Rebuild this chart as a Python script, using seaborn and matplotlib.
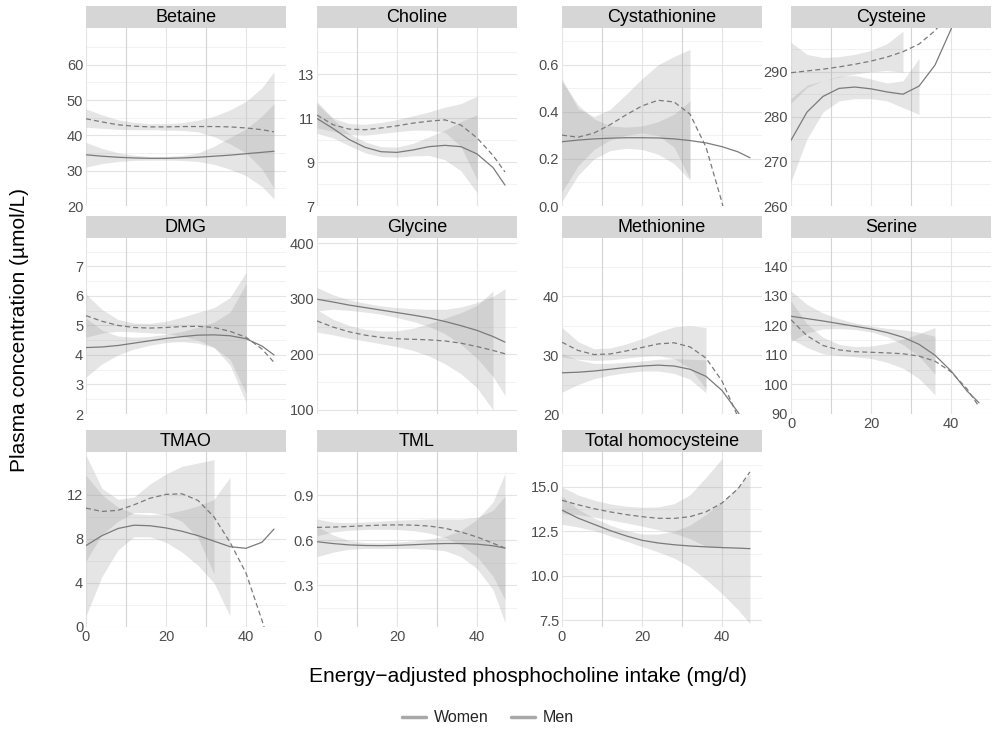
"""Plasma metabolite concentrations vs energy-adjusted phosphocholine intake, by sex."""

import matplotlib

matplotlib.use("Agg")
import matplotlib.pyplot as plt
import numpy as np
import pandas as pd
import seaborn as sns
from matplotlib.lines import Line2D

N = np.nan

# intake grid (mg/d) the curves are read at
X = [0, 4, 8, 12, 16, 20, 24, 28, 32, 36, 40, 44, 47]

PANELS = [
    "Betaine", "Choline", "Cystathionine", "Cysteine",
    "DMG", "Glycine", "Methionine", "Serine",
    "TMAO", "TML", "Total homocysteine",
]

BETAINE = {
    "women": [34.5, 34.1, 33.8, 33.6, 33.5, 33.5, 33.6, 33.8, 34.1, 34.4, 34.8, 35.2, 35.5],
    "women_lo": [31.0, 32.0, 32.6, 32.9, 33.0, 33.0, 32.9, 32.6, 31.8, 30.4, 28.6, 25.5, 22.0],
    "women_hi": [38.0, 36.3, 35.1, 34.4, 34.0, 34.0, 34.3, 35.0, 36.9, 39.4, 41.8, 45.5, 49.0],
    "men": [44.7, 43.8, 43.0, 42.6, 42.4, 42.4, 42.5, 42.5, 42.5, 42.4, 42.1, 41.6, 41.0],
    "men_lo": [42.3, 42.0, 41.7, 41.6, 41.6, 41.5, 41.4, 41.0, 39.6, 37.6, 35.0, 30.5, 25.0],
    "men_hi": [47.5, 45.8, 44.4, 43.7, 43.3, 43.3, 43.6, 44.3, 45.4, 47.2, 49.6, 53.5, 58.0],
}
CHOLINE = {
    "women": [10.98, 10.53, 10.03, 9.67, 9.47, 9.44, 9.55, 9.70, 9.76, 9.70, 9.37, 8.75, 7.95],
    "women_lo": [10.3, 10.1, 9.75, 9.42, 9.25, 9.22, 9.28, 9.3, 9.1, 8.6, 7.6, N, N],
    "women_hi": [11.65, 10.95, 10.3, 9.92, 9.7, 9.68, 9.85, 10.15, 10.45, 10.85, 11.15, N, N],
    "men": [11.14, 10.7, 10.5, 10.47, 10.55, 10.65, 10.77, 10.86, 10.92, 10.68, 10.1, 9.3, 8.55],
    "men_lo": [10.55, 10.4, 10.25, 10.22, 10.3, 10.38, 10.45, 10.45, 10.35, 9.7, 8.2, N, N],
    "men_hi": [11.75, 11.0, 10.75, 10.72, 10.8, 10.93, 11.1, 11.28, 11.5, 11.66, 12.0, N, N],
}
CYSTATHIONINE = {
    "women": [0.273, 0.28, 0.285, 0.288, 0.29, 0.29, 0.289, 0.285, 0.278, 0.268, 0.252, 0.23, 0.205],
    "women_lo": [0.02, 0.13, 0.2, 0.235, 0.245, 0.24, 0.22, 0.18, 0.11, N, N, N, N],
    "women_hi": [0.53, 0.43, 0.37, 0.341, 0.335, 0.34, 0.358, 0.39, 0.446, N, N, N, N],
    "men": [0.301, 0.292, 0.31, 0.345, 0.387, 0.425, 0.449, 0.442, 0.39, 0.25, 0.015, -0.3, -0.6],
    "men_lo": [0.06, 0.17, 0.24, 0.28, 0.30, 0.31, 0.30, 0.25, 0.115, N, N, N, N],
    "men_hi": [0.54, 0.414, 0.38, 0.41, 0.474, 0.54, 0.60, 0.635, 0.665, N, N, N, N],
}
CYSTEINE = {
    "women": [274.7, 281.0, 284.5, 286.3, 286.6, 286.2, 285.5, 285.0, 286.8, 291.5, 299.5, 310, 318],
    "women_lo": [265.5, 275, 281, 283.5, 284, 284, 283.5, 282, 280.5, N, N, N, N],
    "women_hi": [284, 287, 288, 289, 289.2, 288.4, 287.5, 288, 293, N, N, N, N],
    "men": [289.8, 290.2, 290.6, 291.1, 291.7, 292.4, 293.3, 294.5, 296.2, 299.2, 303.5, 309, 314],
    "men_lo": [283, 286.5, 288, 288.8, 289.5, 290, 290.3, 289.9, N, N, N, N, N],
    "men_hi": [296.6, 293.9, 293.2, 293.4, 293.9, 294.8, 296.3, 299.1, N, N, N, N, N],
}
DMG = {
    "women": [4.25, 4.27, 4.32, 4.4, 4.48, 4.56, 4.62, 4.67, 4.68, 4.65, 4.55, 4.3, 4.0],
    "women_lo": [3.25, 3.7, 4.0, 4.2, 4.33, 4.42, 4.45, 4.4, 4.25, 3.85, 2.7, N, N],
    "women_hi": [5.25, 4.84, 4.64, 4.6, 4.63, 4.7, 4.79, 4.94, 5.11, 5.45, 6.4, N, N],
    "men": [5.33, 5.14, 5.0, 4.93, 4.91, 4.93, 4.96, 4.97, 4.93, 4.8, 4.6, 4.2, 3.75],
    "men_lo": [4.6, 4.74, 4.8, 4.78, 4.75, 4.72, 4.64, 4.5, 4.26, 3.66, 2.4, N, N],
    "men_hi": [6.06, 5.54, 5.2, 5.08, 5.07, 5.14, 5.28, 5.44, 5.6, 5.94, 6.8, N, N],
}
GLYCINE = {
    "women": [299, 294, 288.5, 284, 279.5, 275, 270.5, 265.5, 259, 251.5, 243, 232, 222],
    "women_lo": [278, 281, 279, 276, 272, 266, 259, 250, 237, 218, 193, 160, 126],
    "women_hi": [320, 307, 298, 292, 287, 284, 282, 281, 281, 285, 293, 304, 318],
    "men": [260, 249, 240.5, 234.5, 230.5, 228, 227, 226, 224, 220, 214, 207, 201],
    "men_lo": [240, 235, 229, 224, 219, 214, 207, 197, 183, 165, 140, 100, N],
    "men_hi": [280, 263, 252, 245, 242, 242, 247, 255, 265, 275, 288, 314, N],
}
METHIONINE = {
    "women": [27.0, 27.1, 27.3, 27.6, 27.9, 28.15, 28.3, 28.15, 27.6, 26.4, 24.0, 20.3, 17.0],
    "women_lo": [23.7, 25.0, 26.0, 26.6, 27.0, 27.3, 27.3, 26.9, 25.9, 23.6, N, N, N],
    "women_hi": [30.3, 29.2, 28.6, 28.6, 28.8, 29.0, 29.3, 29.4, 29.3, 29.2, N, N, N],
    "men": [32.2, 30.8, 30.1, 30.2, 30.7, 31.3, 31.9, 32.1, 31.4, 29.5, 25.6, 19.5, 15.0],
    "men_lo": [29.7, 29.3, 29.1, 29.2, 29.5, 29.8, 29.9, 29.4, 27.8, 24.3, N, N, N],
    "men_hi": [34.7, 32.3, 31.1, 31.2, 31.9, 32.8, 33.9, 34.8, 35.0, 34.7, N, N, N],
}
SERINE = {
    "women": [123.1, 122.3, 121.5, 120.6, 119.7, 118.8, 117.6, 116.0, 113.6, 109.9, 104.6, 97.8, 93.8],
    "women_lo": [114.5, 117.5, 118.8, 118.9, 118.6, 117.8, 116.2, 113.5, 109.5, 103.5, N, N, N],
    "women_hi": [131.7, 127.1, 124.2, 122.3, 120.8, 119.8, 119.0, 118.5, 117.7, 116.3, N, N, N],
    "men": [121.9, 116.5, 113.2, 111.7, 111.1, 110.9, 110.7, 110.4, 109.6, 107.9, 104.3, 98.5, 92.5],
    "men_lo": [115.5, 112.5, 110.4, 109.8, 109.4, 108.8, 107.5, 105.5, 102.0, 96.5, N, N, N],
    "men_hi": [128.3, 120.5, 116.0, 113.6, 112.8, 113.0, 113.9, 115.3, 117.2, 119.3, N, N, N],
}
TMAO = {
    "women": [7.4, 8.3, 8.95, 9.25, 9.2, 9.0, 8.7, 8.3, 7.8, 7.3, 7.15, 7.7, 8.9],
    "women_lo": [1.0, 4.6, 7.0, 8.2, 8.2, 7.7, 6.8, 5.6, 4.0, 1.0, N, N, N],
    "women_hi": [13.8, 12.0, 10.9, 10.3, 10.2, 10.3, 10.6, 11.0, 11.6, 13.6, N, N, N],
    "men": [10.8, 10.5, 10.6, 11.1, 11.7, 12.05, 12.1, 11.5, 10.0, 7.7, 4.9, 0.6, -3.0],
    "men_lo": [6.0, 8.4, 9.6, 10.4, 10.4, 10.2, 9.6, 8.1, 4.8, N, N, N, N],
    "men_hi": [15.6, 12.6, 11.6, 11.8, 13.0, 13.9, 14.6, 14.9, 15.2, N, N, N, N],
}
TML = {
    "women": [0.59, 0.578, 0.569, 0.565, 0.564, 0.566, 0.57, 0.575, 0.578, 0.578, 0.574, 0.563, 0.548],
    "women_lo": [0.49, 0.52, 0.54, 0.545, 0.545, 0.545, 0.545, 0.54, 0.53, 0.49, 0.41, 0.27, 0.05],
    "women_hi": [0.69, 0.636, 0.598, 0.585, 0.583, 0.587, 0.595, 0.61, 0.626, 0.666, 0.738, 0.856, 1.046],
    "men": [0.686, 0.688, 0.692, 0.697, 0.701, 0.703, 0.701, 0.695, 0.68, 0.655, 0.622, 0.58, 0.548],
    "men_lo": [0.63, 0.655, 0.667, 0.672, 0.674, 0.672, 0.664, 0.648, 0.618, 0.568, 0.49, 0.36, 0.2],
    "men_hi": [0.742, 0.721, 0.717, 0.722, 0.728, 0.734, 0.738, 0.742, 0.742, 0.742, 0.754, 0.8, 0.896],
}
HOMOCYSTEINE = {
    "women": [13.7, 13.25, 12.9, 12.55, 12.25, 12.0, 11.85, 11.75, 11.68, 11.63, 11.59, 11.56, 11.53],
    "women_lo": [12.9, 12.75, 12.55, 12.25, 11.95, 11.65, 11.35, 11.0, 10.5, 9.8, 9.0, 8.1, 7.3],
    "women_hi": [14.5, 13.75, 13.25, 12.85, 12.55, 12.35, 12.35, 12.5, 12.86, 13.46, 14.18, 15.02, 15.76],
    "men": [14.25, 14.0, 13.78, 13.6, 13.45, 13.33, 13.24, 13.23, 13.33, 13.6, 14.1, 14.9, 15.85],
    "men_lo": [13.5, 13.45, 13.3, 13.15, 12.98, 12.8, 12.6, 12.4, 12.1, 11.65, 11.6, N, N],
    "men_hi": [15.0, 14.55, 14.26, 14.05, 13.92, 13.86, 13.88, 14.06, 14.56, 15.55, 16.6, N, N],
}
SERIES = [BETAINE, CHOLINE, CYSTATHIONINE, CYSTEINE, DMG, GLYCINE,
          METHIONINE, SERINE, TMAO, TML, HOMOCYSTEINE]

Y_LIMITS = [(20, 70.4), (7, 15.1), (0, 0.756), (260, 299.8), (2, 7.96), (92.8, 409),
            (20, 49.9), (90, 149.6), (0, 15.9), (0.02, 1.19), (7.12, 16.97)]
Y_TICKS = [
    [20, 30, 40, 50, 60], [7, 9, 11, 13], [0.0, 0.2, 0.4, 0.6], [260, 270, 280, 290],
    [2, 3, 4, 5, 6, 7], [100, 200, 300, 400], [20, 30, 40], [90, 100, 110, 120, 130, 140],
    [0, 4, 8, 12], [0.3, 0.6, 0.9], [7.5, 10.0, 12.5, 15.0],
]
Y_TICK_LABELS = [
    ["20", "30", "40", "50", "60"], ["7", "9", "11", "13"], ["0.0", "0.2", "0.4", "0.6"],
    ["260", "270", "280", "290"], ["2", "3", "4", "5", "6", "7"], ["100", "200", "300", "400"],
    ["20", "30", "40"], ["90", "100", "110", "120", "130", "140"], ["0", "4", "8", "12"],
    ["0.3", "0.6", "0.9"], ["7.5", "10.0", "12.5", "15.0"],
]
X_TICKS = [0, 20, 40]
X_MINOR = [10, 30]
SEXES = ["Women", "Men"]

W, H = 992, 729
COL_LEFT = [86, 317, 562, 791]
PANEL_W = 200
ROW_TOP = [28, 238, 452]
PANEL_H = [178, 176, 175]
STRIP_H = 22
TEXT = "#4d4d4d"


def frac(left, top, width, height):
    return [left / W, 1 - (top + height) / H, width / W, height / H]


def long_frame(series):
    rows = []
    for sex, key in zip(SEXES, ["women", "men"]):
        for x, v, lo, hi in zip(X, series[key], series[key + "_lo"], series[key + "_hi"]):
            rows.append({"intake": x, "sex": sex, "value": v, "lo": lo, "hi": hi})
    return pd.DataFrame(rows)


def draw_panel(fig, i, name, series):
    row, col = divmod(i, 4)
    ax = fig.add_axes(frac(COL_LEFT[col], ROW_TOP[row], PANEL_W, PANEL_H[row]))
    strip = fig.add_axes(frac(COL_LEFT[col], ROW_TOP[row] - STRIP_H, PANEL_W, STRIP_H))
    strip.set_facecolor("#d6d6d6")
    strip.set_xticks([])
    strip.set_yticks([])
    for s in strip.spines.values():
        s.set_visible(False)
    strip.text(0.5, 0.47, name, ha="center", va="center", fontsize=13, color="black")

    ylo, yhi = Y_LIMITS[i]
    ticks = Y_TICKS[i]
    step = ticks[1] - ticks[0]
    minor = [t + step / 2 for t in [ticks[0] - step] + ticks if ylo <= t + step / 2 <= yhi]

    for y in ticks:
        ax.axhline(y, color="#e4e4e4", lw=0.8, zorder=0)
    for y in minor:
        ax.axhline(y, color="#f0f0f0", lw=0.6, zorder=0)
    for x in X_TICKS:
        ax.axvline(x, color="#e4e4e4", lw=0.8, zorder=0)
    for x in X_MINOR:
        ax.axvline(x, color="#d4d4d4", lw=0.8, zorder=0)

    df = long_frame(series)
    for sex in SEXES:
        part = df[df["sex"] == sex]
        ax.fill_between(part["intake"], part["lo"], part["hi"], color="#999999",
                        alpha=0.25, lw=0, zorder=1)
    sns.lineplot(data=df, x="intake", y="value", style="sex", style_order=SEXES,
                 dashes={"Women": "", "Men": (4, 2.5)}, color="#7a7a7a", lw=0.9,
                 estimator=None, sort=False, legend=False, ax=ax, zorder=2)

    ax.set_xlim(0, 50)
    ax.set_ylim(ylo, yhi)
    ax.set_yticks(ticks)
    ax.set_yticklabels(Y_TICK_LABELS[i])
    ax.set_xlabel("")
    ax.set_ylabel("")
    bottom = row == 2 or i == 7
    ax.set_xticks(X_TICKS)
    ax.set_xticklabels([str(t) for t in X_TICKS] if bottom else [])
    ax.tick_params(length=0, pad=2, labelsize=10.5, labelcolor=TEXT)
    ax.grid(False)
    for s in ax.spines.values():
        s.set_visible(False)
    ax.set_facecolor("white")


def main():
    sns.set_theme(style="white")
    plt.rcParams["font.family"] = ["Liberation Sans", "DejaVu Sans"]

    fig = plt.figure(figsize=(W / 100, H / 100), dpi=100)
    for i, (name, series) in enumerate(zip(PANELS, SERIES)):
        draw_panel(fig, i, name, series)

    fig.text(20 / W, 1 - 330 / H, "Plasma concentration (\u00b5mol/L)", rotation=90,
             ha="center", va="center", fontsize=15, color="black")
    fig.text(528 / W, 1 - 677 / H, "Energy\u2212adjusted phosphocholine intake (mg/d)",
             ha="center", va="center", fontsize=15, color="black")

    handles = [Line2D([], [], color="#a8a8a8", lw=2.5) for _ in SEXES]
    fig.legend(handles, SEXES, loc="center", bbox_to_anchor=(488 / W, 1 - 718 / H),
               ncol=2, frameon=False, fontsize=11.5, handlelength=1.5,
               columnspacing=1.4, handletextpad=0.5)

    fig.savefig("out.png", dpi=100)
    plt.close(fig)


if __name__ == "__main__":
    main()
